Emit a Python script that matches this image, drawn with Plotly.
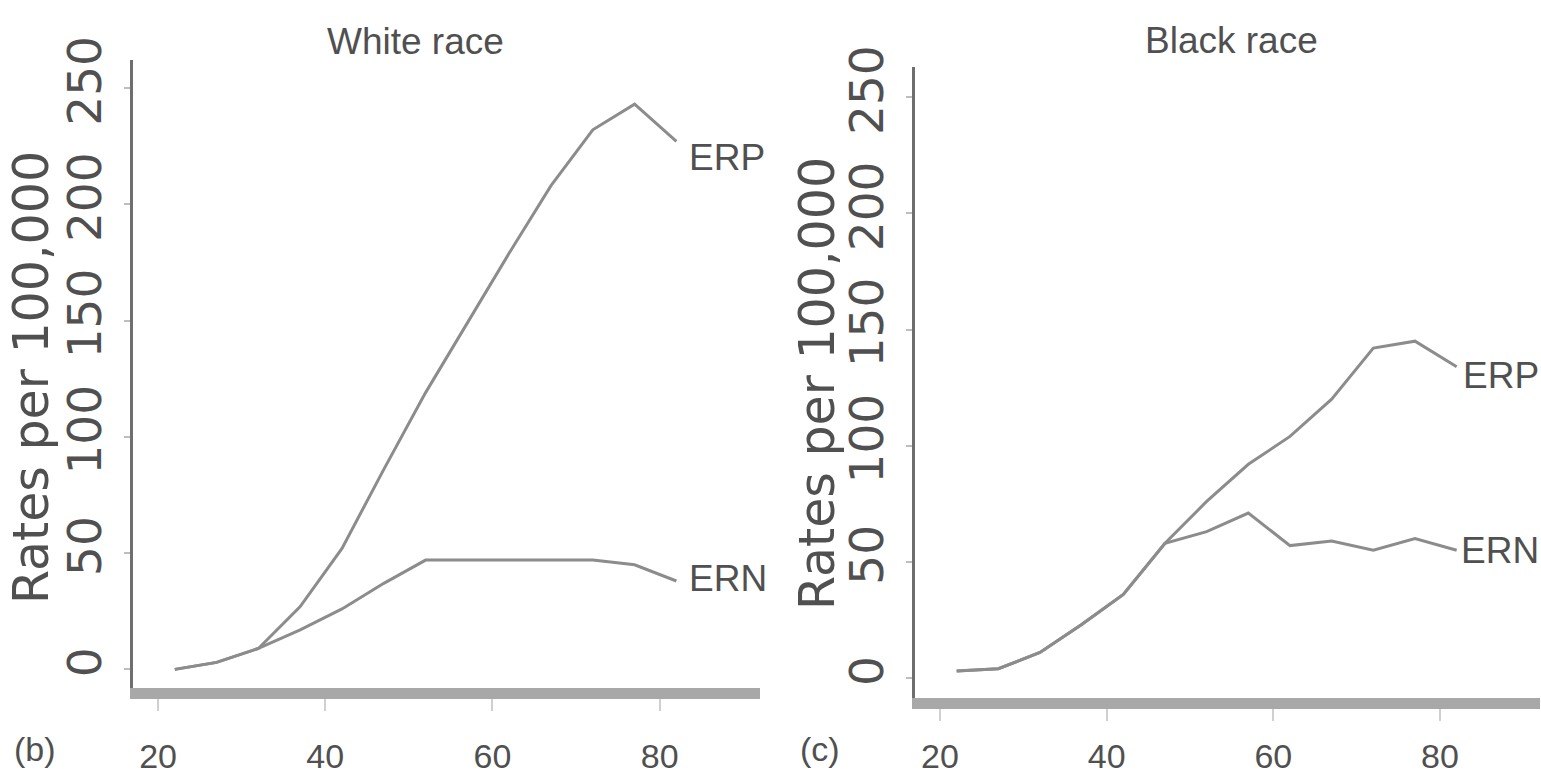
import plotly.graph_objects as go

# ---- data ----
ages = [22, 27, 32, 37, 42, 47, 52, 57, 62, 67, 72, 77, 82]
white_erp = [0, 3, 9, 27, 52, 86, 119, 149, 179, 208, 232, 243, 227]
white_ern = [0, 3, 9, 17, 26, 37, 47, 47, 47, 47, 47, 45, 38]
black_ages = [22, 27, 32, 37, 42, 47, 52, 57, 62, 67, 72, 77, 82]
black_erp = [3, 4, 11, 23, 36, 58, 76, 92, 104, 120, 142, 145, 134]
black_ern = [3, 4, 11, 23, 36, 58, 63, 71, 57, 59, 55, 60, 55]
x_ticks = [20, 40, 60, 80]
y_ticks = [0, 50, 100, 150, 200, 250]
panel_titles = ["White race", "Black race"]
panel_tags = ["(b)", "(c)"]
y_title = "Rates per 100,000"

W, H = 1541, 774
def px(p):
    return p / W
def py(p):
    return 1 - p / H

LINE = "#8c8c8c"
TXT = "#505050"
HFONT = "Liberation Sans, Arial, Helvetica, sans-serif"
VFONT = "DejaVu Sans, Liberation Sans, Arial"

fig = go.Figure()
for xs, ys, ax in [(ages, white_erp, ("x", "y")), (ages, white_ern, ("x", "y")),
                   (black_ages, black_erp, ("x2", "y2")), (black_ages, black_ern, ("x2", "y2"))]:
    fig.add_trace(go.Scatter(x=xs, y=ys, mode="lines", xaxis=ax[0], yaxis=ax[1],
                             line=dict(color=LINE, width=3), showlegend=False,
                             hoverinfo="skip"))

xcommon = dict(range=[17, 92], showline=True, linecolor="#a8a8a8", linewidth=11,
               ticks="outside", ticklen=12, tickwidth=2, tickcolor="#d0d0d0",
               tickvals=x_ticks, ticktext=[str(v) for v in x_ticks],
               tickfont=dict(family=HFONT, size=34, color=TXT),
               automargin=False,
               showgrid=False, zeroline=False, fixedrange=True)
ycommon = dict(showline=True, linecolor="#6e6e6e", linewidth=3,
               ticks="outside", ticklen=6, tickwidth=2, tickcolor="#bdbdbd",
               tickvals=y_ticks, ticktext=[str(v) for v in y_ticks], tickangle=-90,
               tickfont=dict(family=VFONT, size=47, color=TXT),
               ticklabelstandoff=4, automargin=False,
               showgrid=False, zeroline=False, fixedrange=True)

fig.update_layout(
    width=W, height=H, margin=dict(l=0, r=0, t=0, b=0, pad=0),
    paper_bgcolor="white", plot_bgcolor="white",
    xaxis=dict(domain=[px(133), px(760)], anchor="y", ticklabelstandoff=16, **xcommon),
    yaxis=dict(domain=[py(688), py(60)], anchor="x", range=[-8, 262], **ycommon),
    xaxis2=dict(domain=[px(915), px(1540)], anchor="y2", ticklabelstandoff=6, **xcommon),
    yaxis2=dict(domain=[py(698), py(67)], anchor="x2", range=[-8.6, 263], **ycommon),
)

ann = []
# panel titles
ann.append(dict(text=panel_titles[0], x=px(415), y=py(42), xref="paper", yref="paper",
                xanchor="center", yanchor="middle",
                showarrow=False, font=dict(family=HFONT, size=37, color=TXT)))
ann.append(dict(text=panel_titles[1], x=px(1231), y=py(40), xref="paper", yref="paper",
                xanchor="center", yanchor="middle",
                showarrow=False, font=dict(family=HFONT, size=37, color=TXT)))
# y titles
ann.append(dict(text=y_title, x=px(31), y=py(378), xref="paper", yref="paper", textangle=-90,
                xanchor="center", yanchor="middle",
                showarrow=False, font=dict(family=VFONT, size=49, color=TXT)))
ann.append(dict(text=y_title, x=px(817), y=py(384), xref="paper", yref="paper", textangle=-90,
                xanchor="center", yanchor="middle",
                showarrow=False, font=dict(family=VFONT, size=49, color=TXT)))
# panel tags
ann.append(dict(text=panel_tags[0], x=px(35), y=py(728), xref="paper", yref="paper",
                xanchor="center", yanchor="top",
                showarrow=False, font=dict(family=HFONT, size=34, color=TXT)))
ann.append(dict(text=panel_tags[1], x=px(820), y=py(728), xref="paper", yref="paper",
                xanchor="center", yanchor="top",
                showarrow=False, font=dict(family=HFONT, size=34, color=TXT)))
# series labels (white panel, data-anchored)
for txt, yv in [("ERP", 220), ("ERN", 39)]:
    ann.append(dict(text=txt, x=83.3, y=yv, xref="x", yref="y", xanchor="left",
                    yanchor="middle",
                    showarrow=False, font=dict(family=HFONT, size=37, color=TXT)))
# series labels (black panel, kept inside right edge)
for txt, yv in [("ERP", 130), ("ERN", 55)]:
    ann.append(dict(text=txt, x=1.0, y=yv, xref="paper", yref="y2", xanchor="right",
                    yanchor="middle",
                    showarrow=False, font=dict(family=HFONT, size=37, color=TXT)))
fig.update_layout(annotations=ann)

fig.write_html("out.html", config={"displayModeBar": False},
               post_script="document.body.style.margin='0';document.body.style.overflow='hidden';")
